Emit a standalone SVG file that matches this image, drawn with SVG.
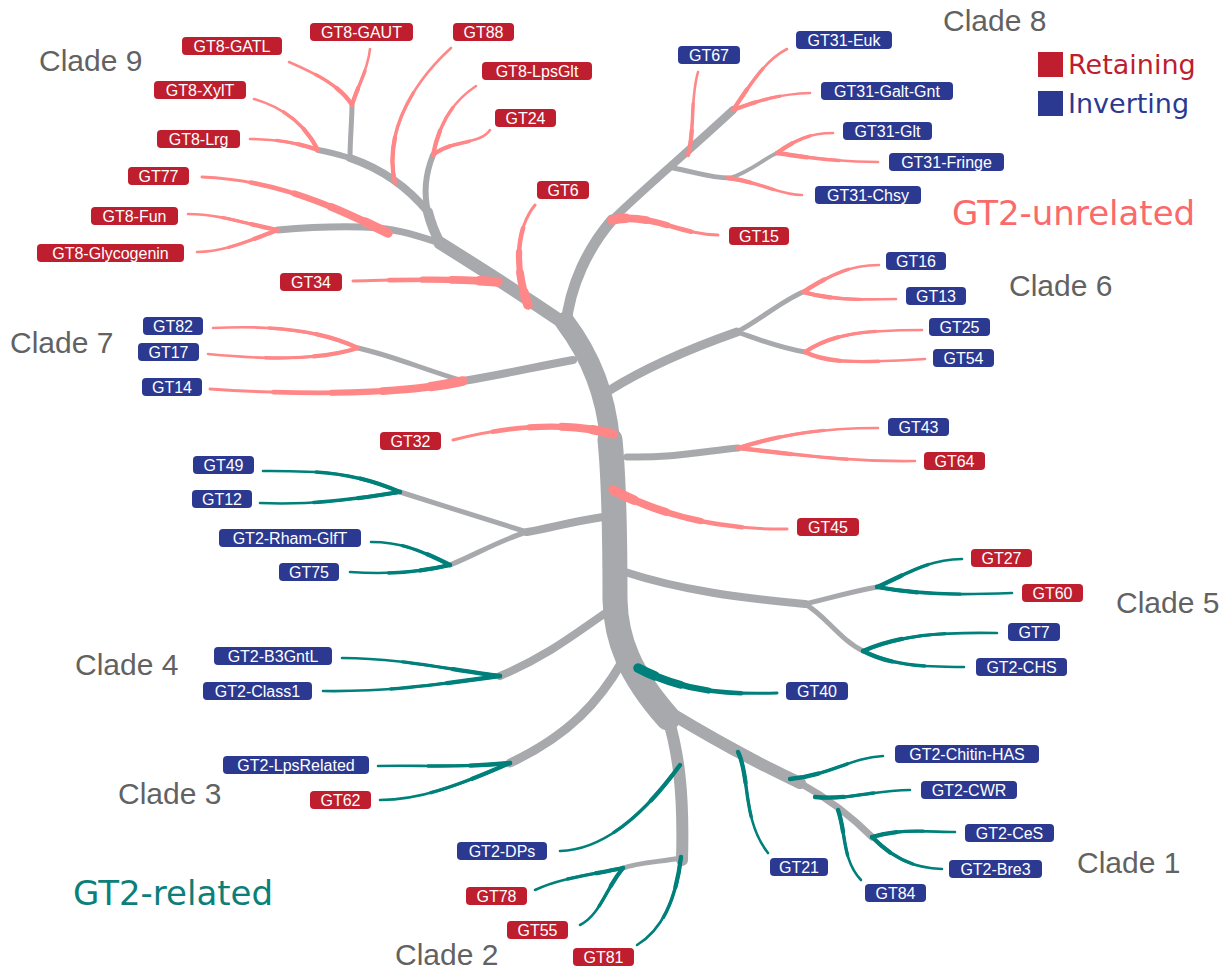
<svg xmlns="http://www.w3.org/2000/svg" xmlns:xlink="http://www.w3.org/1999/xlink" width="1225" height="972" viewBox="0 0 1225 972">
<style>
.g{fill:none;stroke:#a7a9ac;stroke-linecap:round;stroke-linejoin:round}
.p{fill:none;stroke:#ff8787;stroke-linecap:round}
.t{fill:none;stroke:#00807a;stroke-linecap:round}
.a1{stroke-width:2.6}
.a2{stroke-width:3.4;stroke-dasharray:62 100}
.a3{stroke-width:4.3;stroke-dasharray:30 100}
.k1{stroke-width:3}
.k2{stroke-width:4.6;stroke-dasharray:75 100}
.k3{stroke-width:6.2;stroke-dasharray:52 100}
.k4{stroke-width:7.8;stroke-dasharray:32 100}
.k5{stroke-width:9.5;stroke-dasharray:13 100}
.ret rect{fill:#be1e2d}
.inv rect{fill:#2b3990}
.lab text{font-family:"Liberation Sans",Arial,sans-serif;font-size:16px;fill:#fff;text-anchor:middle}
.clade{font-family:"Liberation Sans",Arial,sans-serif;font-size:30px;fill:#626262}
.big{font-family:"DejaVu Sans",Verdana,sans-serif}
</style>
<defs>
<path id="pGATL" pathLength="100" d="M352,105 C340,85 312,72 289,62"/>
<path id="pGAUT" pathLength="100" d="M352,105 C358,85 368,70 370,49"/>
<path id="pXYLT" pathLength="100" d="M318,150 C305,125 285,108 254,99"/>
<path id="pLRG" pathLength="100" d="M318,150 C295,142 275,139 250,139"/>
<path id="p88" pathLength="100" d="M395,183 C385,140 405,90 451,48"/>
<path id="pLPS" pathLength="100" d="M433,155 C440,120 455,100 476,86"/>
<path id="p24" pathLength="100" d="M433,155 C450,140 480,145 490,130"/>
<path id="p77" pathLength="100" d="M388,233 C340,210 280,180 202,177"/>
<path id="pFUN" pathLength="100" d="M278,230 C250,225 220,214 188,214"/>
<path id="pGLY" pathLength="100" d="M278,230 C250,240 225,252 197,252"/>
<path id="p34" pathLength="100" d="M498,282 C450,278 400,280 353,281"/>
<path id="p6" pathLength="100" d="M528,305 C515,270 515,230 535,205"/>
<path id="p15" pathLength="100" d="M612,220 C650,212 680,235 718,235"/>
<path id="p67" pathLength="100" d="M688,155 C695,130 690,100 698,72"/>
<path id="pEUK" pathLength="100" d="M733,110 C750,85 765,60 787,49"/>
<path id="pGALT" pathLength="100" d="M733,110 C760,100 780,94 810,93"/>
<path id="pCHSY" pathLength="100" d="M728,178 C760,182 780,195 802,195"/>
<path id="pGLT" pathLength="100" d="M777,153 C795,140 810,133 833,133"/>
<path id="pFRI" pathLength="100" d="M777,153 C810,158 840,162 878,162"/>
<path id="p16" pathLength="100" d="M803,292 C830,275 850,265 879,265"/>
<path id="p13" pathLength="100" d="M803,292 C830,300 860,300 896,299"/>
<path id="p25" pathLength="100" d="M805,352 C830,335 860,330 922,330"/>
<path id="p54" pathLength="100" d="M805,352 C830,365 870,362 925,359"/>
<path id="p43" pathLength="100" d="M738,448 C780,435 820,428 878,428"/>
<path id="p64" pathLength="100" d="M738,448 C800,455 850,462 915,461"/>
<path id="p32" pathLength="100" d="M613,434 C560,420 500,428 453,440"/>
<path id="p45" pathLength="100" d="M613,490 C660,515 720,530 787,529"/>
<path id="p14" pathLength="100" d="M463,381 C400,395 300,395 210,389"/>
<path id="p82" pathLength="100" d="M358,348 C320,330 270,325 213,328"/>
<path id="p17" pathLength="100" d="M358,348 C320,360 270,360 208,354"/>
<path id="t49" pathLength="100" d="M400,492 C350,470 310,471 263,471"/>
<path id="t12" pathLength="100" d="M400,492 C350,500 310,505 260,503"/>
<path id="tRHAM" pathLength="100" d="M450,565 C420,550 400,542 371,542"/>
<path id="t75" pathLength="100" d="M450,565 C420,572 390,575 350,572"/>
<path id="tB3" pathLength="100" d="M500,676 C450,670 400,658 342,658"/>
<path id="tC1" pathLength="100" d="M500,676 C440,684 390,692 323,691"/>
<path id="tLPS" pathLength="100" d="M510,763 C460,768 420,765 378,766"/>
<path id="t62" pathLength="100" d="M510,763 C460,785 420,800 380,800"/>
<path id="t40" pathLength="100" d="M638,668 C680,690 720,695 777,693"/>
<path id="t21" pathLength="100" d="M738,752 C750,775 742,820 768,853"/>
<path id="tCHI" pathLength="100" d="M790,779 C830,775 850,758 883,756"/>
<path id="tCWR" pathLength="100" d="M815,797 C850,800 875,790 910,790"/>
<path id="t84" pathLength="100" d="M838,810 C846,832 842,860 861,880"/>
<path id="tCES" pathLength="100" d="M872,837 C900,828 930,832 955,832"/>
<path id="tBRE" pathLength="100" d="M872,837 C895,860 915,868 942,869"/>
<path id="tDPS" pathLength="100" d="M680,765 C640,820 600,850 560,851"/>
<path id="t81" pathLength="100" d="M681,857 C676,900 662,930 637,945"/>
<path id="t78" pathLength="100" d="M623,868 C590,875 560,878 535,890"/>
<path id="t55" pathLength="100" d="M623,868 C605,890 600,915 580,925"/>
<path id="t27" pathLength="100" d="M877,587 C905,575 925,560 962,559"/>
<path id="t60" pathLength="100" d="M877,587 C920,595 960,595 1012,593"/>
<path id="t7" pathLength="100" d="M863,651 C900,635 940,632 997,633"/>
<path id="tCHS" pathLength="100" d="M863,651 C890,665 920,667 964,667"/>
</defs>
<rect width="1225" height="972" fill="#fff"/>
<g id="connectors">
 <g id="gray-branches" class="g">
  <path stroke-width="20" d="M565,322 C590,355 606,395 610,440"/>
  <path stroke-width="25" d="M610,440 C614,480 615,540 615,600 C616,640 630,675 668,718"/>
  <path stroke-width="12" d="M667,715 C678,750 684,790 682,860"/>
  <path stroke-width="12" d="M672,714 Q740,755 800,783"/>
  <path stroke-width="7" d="M800,783 Q840,805 872,837"/>
  <path stroke-width="9" d="M622,662 C600,700 570,735 510,763"/>
  <path stroke-width="8" d="M607,612 C580,630 550,655 500,676"/>
  <path stroke-width="5" d="M681,858 C660,862 640,862 623,868"/>
  <path stroke-width="8" d="M625,572 C680,590 740,598 805,604"/>
  <path stroke-width="5" d="M805,604 C830,598 850,592 877,587"/>
  <path stroke-width="5" d="M805,604 C825,615 840,640 863,651"/>
  <path stroke-width="7" d="M627,457 C670,458 700,452 738,448"/>
  <path stroke-width="9" d="M610,390 C650,365 700,345 737,332"/>
  <path stroke-width="5" d="M737,332 C760,320 780,302 803,292"/>
  <path stroke-width="5" d="M737,332 C760,340 780,348 805,352"/>
  <path stroke-width="8" d="M573,360 C530,368 500,375 463,381"/>
  <path stroke-width="5" d="M463,381 C420,368 390,355 358,348"/>
  <path stroke-width="8" d="M603,517 C570,522 550,528 527,532"/>
  <path stroke-width="5" d="M527,532 C490,520 440,505 400,492"/>
  <path stroke-width="5" d="M527,532 C500,540 475,555 450,565"/>
  <path stroke-width="13" d="M562,322 C530,300 480,268 440,243"/>
  <path stroke-width="10" d="M440,243 Q432,228 428,212"/>
  <path stroke-width="6" d="M428,212 C424,195 425,175 433,155"/>
  <path stroke-width="8" d="M428,212 C410,190 385,170 350,158"/>
  <path stroke-width="6" d="M350,158 C340,155 330,152 318,150"/>
  <path stroke-width="5" d="M350,158 C350,140 352,120 352,105"/>
  <path stroke-width="7" d="M440,243 C415,235 395,228 363,227 C330,226 300,228 278,230"/>
  <path stroke-width="11" d="M566,325 C570,285 588,248 612,220"/>
  <path stroke-width="8" d="M612,220 C640,192 690,150 733,110"/>
  <path stroke-width="5" d="M673,168 C695,172 710,178 730,178"/>
  <path stroke-width="4" d="M730,178 C750,172 765,158 777,153"/>
 </g>
 <g id="gt2-unrelated-branches" class="p">
  <use href="#pGATL" class="a1"/><use href="#pGATL" class="a2"/><use href="#pGATL" class="a3"/>
  <use href="#pGAUT" class="a1"/><use href="#pGAUT" class="a2"/><use href="#pGAUT" class="a3"/>
  <use href="#pXYLT" class="a1"/><use href="#pXYLT" class="a2"/><use href="#pXYLT" class="a3"/>
  <use href="#pLRG" class="a1"/><use href="#pLRG" class="a2"/><use href="#pLRG" class="a3"/>
  <use href="#p88" class="a1"/><use href="#p88" class="a2"/><use href="#p88" class="a3"/>
  <use href="#pLPS" class="a1"/><use href="#pLPS" class="a2"/><use href="#pLPS" class="a3"/>
  <use href="#p24" class="a1"/><use href="#p24" class="a2"/><use href="#p24" class="a3"/>
  <use href="#p77" class="k1"/><use href="#p77" class="k2"/><use href="#p77" class="k3"/><use href="#p77" class="k4"/><use href="#p77" class="k5"/>
  <use href="#pFUN" class="a1"/><use href="#pFUN" class="a2"/><use href="#pFUN" class="a3"/>
  <use href="#pGLY" class="a1"/><use href="#pGLY" class="a2"/><use href="#pGLY" class="a3"/>
  <use href="#p34" class="k1"/><use href="#p34" class="k2"/><use href="#p34" class="k3"/><use href="#p34" class="k4"/><use href="#p34" class="k5"/>
  <use href="#p6" class="k1"/><use href="#p6" class="k2"/><use href="#p6" class="k3"/><use href="#p6" class="k4"/><use href="#p6" class="k5"/>
  <use href="#p15" class="k1"/><use href="#p15" class="k2"/><use href="#p15" class="k3"/><use href="#p15" class="k4"/><use href="#p15" class="k5"/>
  <use href="#p67" class="a1"/><use href="#p67" class="a2"/><use href="#p67" class="a3"/>
  <use href="#pEUK" class="a1"/><use href="#pEUK" class="a2"/><use href="#pEUK" class="a3"/>
  <use href="#pGALT" class="a1"/><use href="#pGALT" class="a2"/><use href="#pGALT" class="a3"/>
  <use href="#pCHSY" class="a1"/><use href="#pCHSY" class="a2"/><use href="#pCHSY" class="a3"/>
  <use href="#pGLT" class="a1"/><use href="#pGLT" class="a2"/><use href="#pGLT" class="a3"/>
  <use href="#pFRI" class="a1"/><use href="#pFRI" class="a2"/><use href="#pFRI" class="a3"/>
  <use href="#p16" class="a1"/><use href="#p16" class="a2"/><use href="#p16" class="a3"/>
  <use href="#p13" class="a1"/><use href="#p13" class="a2"/><use href="#p13" class="a3"/>
  <use href="#p25" class="a1"/><use href="#p25" class="a2"/><use href="#p25" class="a3"/>
  <use href="#p54" class="a1"/><use href="#p54" class="a2"/><use href="#p54" class="a3"/>
  <use href="#p43" class="a1"/><use href="#p43" class="a2"/><use href="#p43" class="a3"/>
  <use href="#p64" class="a1"/><use href="#p64" class="a2"/><use href="#p64" class="a3"/>
  <use href="#p32" class="k1"/><use href="#p32" class="k2"/><use href="#p32" class="k3"/><use href="#p32" class="k4"/><use href="#p32" class="k5"/>
  <use href="#p45" class="k1"/><use href="#p45" class="k2"/><use href="#p45" class="k3"/><use href="#p45" class="k4"/><use href="#p45" class="k5"/>
  <use href="#p14" class="k1"/><use href="#p14" class="k2"/><use href="#p14" class="k3"/><use href="#p14" class="k4"/><use href="#p14" class="k5"/>
  <use href="#p82" class="a1"/><use href="#p82" class="a2"/><use href="#p82" class="a3"/>
  <use href="#p17" class="a1"/><use href="#p17" class="a2"/><use href="#p17" class="a3"/>
 </g>
 <g id="gt2-related-branches" class="t">
  <use href="#t49" class="a1"/><use href="#t49" class="a2"/><use href="#t49" class="a3"/>
  <use href="#t12" class="a1"/><use href="#t12" class="a2"/><use href="#t12" class="a3"/>
  <use href="#tRHAM" class="a1"/><use href="#tRHAM" class="a2"/><use href="#tRHAM" class="a3"/>
  <use href="#t75" class="a1"/><use href="#t75" class="a2"/><use href="#t75" class="a3"/>
  <use href="#tB3" class="a1"/><use href="#tB3" class="a2"/><use href="#tB3" class="a3"/>
  <use href="#tC1" class="a1"/><use href="#tC1" class="a2"/><use href="#tC1" class="a3"/>
  <use href="#tLPS" class="a1"/><use href="#tLPS" class="a2"/><use href="#tLPS" class="a3"/>
  <use href="#t62" class="a1"/><use href="#t62" class="a2"/><use href="#t62" class="a3"/>
  <use href="#t40" class="k1"/><use href="#t40" class="k2"/><use href="#t40" class="k3"/><use href="#t40" class="k4"/><use href="#t40" class="k5"/>
  <use href="#t21" class="a1"/><use href="#t21" class="a2"/><use href="#t21" class="a3"/>
  <use href="#tCHI" class="a1"/><use href="#tCHI" class="a2"/><use href="#tCHI" class="a3"/>
  <use href="#tCWR" class="a1"/><use href="#tCWR" class="a2"/><use href="#tCWR" class="a3"/>
  <use href="#t84" class="a1"/><use href="#t84" class="a2"/><use href="#t84" class="a3"/>
  <use href="#tCES" class="a1"/><use href="#tCES" class="a2"/><use href="#tCES" class="a3"/>
  <use href="#tBRE" class="a1"/><use href="#tBRE" class="a2"/><use href="#tBRE" class="a3"/>
  <use href="#tDPS" class="a1"/><use href="#tDPS" class="a2"/><use href="#tDPS" class="a3"/>
  <use href="#t81" class="a1"/><use href="#t81" class="a2"/><use href="#t81" class="a3"/>
  <use href="#t78" class="a1"/><use href="#t78" class="a2"/><use href="#t78" class="a3"/>
  <use href="#t55" class="a1"/><use href="#t55" class="a2"/><use href="#t55" class="a3"/>
  <use href="#t27" class="a1"/><use href="#t27" class="a2"/><use href="#t27" class="a3"/>
  <use href="#t60" class="a1"/><use href="#t60" class="a2"/><use href="#t60" class="a3"/>
  <use href="#t7" class="a1"/><use href="#t7" class="a2"/><use href="#t7" class="a3"/>
  <use href="#tCHS" class="a1"/><use href="#tCHS" class="a2"/><use href="#tCHS" class="a3"/>
 </g>
</g>
<g id="labels" class="lab">
 <g id="GT8-GATL" class="ret"><rect x="182" y="37" width="100" height="18" rx="4"/><text x="232" y="52">GT8-GATL</text></g>
 <g id="GT8-GAUT" class="ret"><rect x="310" y="23" width="103" height="18" rx="4"/><text x="361.5" y="38">GT8-GAUT</text></g>
 <g id="GT88" class="ret"><rect x="453" y="23" width="61" height="18" rx="4"/><text x="483.5" y="38">GT88</text></g>
 <g id="GT8-LpsGlt" class="ret"><rect x="482" y="62" width="110" height="18" rx="4"/><text x="537" y="77">GT8-LpsGlt</text></g>
 <g id="GT24" class="ret"><rect x="495" y="109" width="61" height="18" rx="4"/><text x="525.5" y="124">GT24</text></g>
 <g id="GT8-XylT" class="ret"><rect x="154" y="81" width="92" height="18" rx="4"/><text x="200" y="96">GT8-XylT</text></g>
 <g id="GT8-Lrg" class="ret"><rect x="157" y="130" width="83" height="18" rx="4"/><text x="198.5" y="145">GT8-Lrg</text></g>
 <g id="GT77" class="ret"><rect x="128" y="167" width="61" height="18" rx="4"/><text x="158.5" y="182">GT77</text></g>
 <g id="GT8-Fun" class="ret"><rect x="91" y="207" width="87" height="18" rx="4"/><text x="134.5" y="222">GT8-Fun</text></g>
 <g id="GT8-Glycogenin" class="ret"><rect x="37" y="244" width="147" height="18" rx="4"/><text x="110.5" y="259">GT8-Glycogenin</text></g>
 <g id="GT34" class="ret"><rect x="280" y="273" width="62" height="18" rx="4"/><text x="311" y="288">GT34</text></g>
 <g id="GT6" class="ret"><rect x="537" y="181" width="52" height="18" rx="4"/><text x="563" y="196">GT6</text></g>
 <g id="GT15" class="ret"><rect x="729" y="227" width="60" height="18" rx="4"/><text x="759" y="242">GT15</text></g>
 <g id="GT32" class="ret"><rect x="380" y="432" width="61" height="18" rx="4"/><text x="410.5" y="447">GT32</text></g>
 <g id="GT64" class="ret"><rect x="924" y="452" width="61" height="18" rx="4"/><text x="954.5" y="467">GT64</text></g>
 <g id="GT45" class="ret"><rect x="797" y="518" width="62" height="18" rx="4"/><text x="828" y="533">GT45</text></g>
 <g id="GT27" class="ret"><rect x="971" y="549" width="61" height="18" rx="4"/><text x="1001.5" y="564">GT27</text></g>
 <g id="GT60" class="ret"><rect x="1022" y="584" width="61" height="18" rx="4"/><text x="1052.5" y="599">GT60</text></g>
 <g id="GT62" class="ret"><rect x="310" y="791" width="61" height="18" rx="4"/><text x="340.5" y="806">GT62</text></g>
 <g id="GT78" class="ret"><rect x="466" y="887" width="61" height="18" rx="4"/><text x="496.5" y="902">GT78</text></g>
 <g id="GT55" class="ret"><rect x="507" y="921" width="61" height="18" rx="4"/><text x="537.5" y="936">GT55</text></g>
 <g id="GT81" class="ret"><rect x="573" y="948" width="61" height="18" rx="4"/><text x="603.5" y="963">GT81</text></g>
 <g id="GT67" class="inv"><rect x="678" y="46" width="62" height="18" rx="4"/><text x="709" y="61">GT67</text></g>
 <g id="GT31-Euk" class="inv"><rect x="796" y="31" width="96" height="18" rx="4"/><text x="844" y="46">GT31-Euk</text></g>
 <g id="GT31-Galt-Gnt" class="inv"><rect x="821" y="82" width="132" height="18" rx="4"/><text x="887" y="97">GT31-Galt-Gnt</text></g>
 <g id="GT31-Glt" class="inv"><rect x="843" y="122" width="89" height="18" rx="4"/><text x="887.5" y="137">GT31-Glt</text></g>
 <g id="GT31-Fringe" class="inv"><rect x="889" y="153" width="115" height="18" rx="4"/><text x="946.5" y="168">GT31-Fringe</text></g>
 <g id="GT31-Chsy" class="inv"><rect x="815" y="186" width="106" height="18" rx="4"/><text x="868" y="201">GT31-Chsy</text></g>
 <g id="GT16" class="inv"><rect x="886" y="252" width="60" height="18" rx="4"/><text x="916" y="267">GT16</text></g>
 <g id="GT13" class="inv"><rect x="906" y="287" width="60" height="18" rx="4"/><text x="936" y="302">GT13</text></g>
 <g id="GT25" class="inv"><rect x="929" y="318" width="61" height="18" rx="4"/><text x="959.5" y="333">GT25</text></g>
 <g id="GT54" class="inv"><rect x="933" y="349" width="61" height="18" rx="4"/><text x="963.5" y="364">GT54</text></g>
 <g id="GT43" class="inv"><rect x="888" y="418" width="61" height="18" rx="4"/><text x="918.5" y="433">GT43</text></g>
 <g id="GT82" class="inv"><rect x="143" y="317" width="60" height="18" rx="4"/><text x="173" y="332">GT82</text></g>
 <g id="GT17" class="inv"><rect x="138" y="343" width="61" height="18" rx="4"/><text x="168.5" y="358">GT17</text></g>
 <g id="GT14" class="inv"><rect x="142" y="378" width="60" height="18" rx="4"/><text x="172" y="393">GT14</text></g>
 <g id="GT49" class="inv"><rect x="193" y="456" width="61" height="18" rx="4"/><text x="223.5" y="471">GT49</text></g>
 <g id="GT12" class="inv"><rect x="192" y="490" width="60" height="18" rx="4"/><text x="222" y="505">GT12</text></g>
 <g id="GT2-Rham-GlfT" class="inv"><rect x="219" y="529" width="142" height="18" rx="4"/><text x="290" y="544">GT2-Rham-GlfT</text></g>
 <g id="GT75" class="inv"><rect x="279" y="563" width="60" height="18" rx="4"/><text x="309" y="578">GT75</text></g>
 <g id="GT7" class="inv"><rect x="1008" y="623" width="52" height="18" rx="4"/><text x="1034" y="638">GT7</text></g>
 <g id="GT2-CHS" class="inv"><rect x="976" y="658" width="91" height="18" rx="4"/><text x="1021.5" y="673">GT2-CHS</text></g>
 <g id="GT40" class="inv"><rect x="786" y="682" width="62" height="18" rx="4"/><text x="817" y="697">GT40</text></g>
 <g id="GT2-Chitin-HAS" class="inv"><rect x="895" y="745" width="144" height="18" rx="4"/><text x="967" y="760">GT2-Chitin-HAS</text></g>
 <g id="GT2-CWR" class="inv"><rect x="921" y="781" width="96" height="18" rx="4"/><text x="969" y="796">GT2-CWR</text></g>
 <g id="GT2-CeS" class="inv"><rect x="965" y="824" width="89" height="18" rx="4"/><text x="1009.5" y="839">GT2-CeS</text></g>
 <g id="GT2-Bre3" class="inv"><rect x="949" y="860" width="93" height="18" rx="4"/><text x="995.5" y="875">GT2-Bre3</text></g>
 <g id="GT84" class="inv"><rect x="865" y="884" width="61" height="18" rx="4"/><text x="895.5" y="899">GT84</text></g>
 <g id="GT21" class="inv"><rect x="770" y="858" width="58" height="18" rx="4"/><text x="799" y="873">GT21</text></g>
 <g id="GT2-B3GntL" class="inv"><rect x="214" y="647" width="118" height="18" rx="4"/><text x="273" y="662">GT2-B3GntL</text></g>
 <g id="GT2-Class1" class="inv"><rect x="203" y="682" width="109" height="18" rx="4"/><text x="257.5" y="697">GT2-Class1</text></g>
 <g id="GT2-LpsRelated" class="inv"><rect x="223" y="756" width="146" height="18" rx="4"/><text x="296" y="771">GT2-LpsRelated</text></g>
 <g id="GT2-DPs" class="inv"><rect x="457" y="842" width="90" height="18" rx="4"/><text x="502" y="857">GT2-DPs</text></g>
</g>
<g id="clade-labels" class="clade">
 <text x="39" y="71">Clade 9</text>
 <text x="943" y="31">Clade 8</text>
 <text x="10" y="353">Clade 7</text>
 <text x="1009" y="296">Clade 6</text>
 <text x="1116" y="613">Clade 5</text>
 <text x="75" y="675">Clade 4</text>
 <text x="118" y="804">Clade 3</text>
 <text x="395" y="965">Clade 2</text>
 <text x="1077" y="873">Clade 1</text>
</g>
<g id="group-labels" class="big">
 <text x="952" y="225" font-size="34" fill="#fa6a6a">GT2-unrelated</text>
 <text x="73" y="905" font-size="34" fill="#0d7f79">GT2-related</text>
</g>
<g id="legend" class="big">
 <rect x="1038" y="52" width="25" height="25" fill="#be1e2d"/>
 <text x="1068" y="74" font-size="27" fill="#be1e2d">Retaining</text>
 <rect x="1038" y="91" width="25" height="25" fill="#2b3990"/>
 <text x="1068" y="113" font-size="27" fill="#2b3990">Inverting</text>
</g>
</svg>
